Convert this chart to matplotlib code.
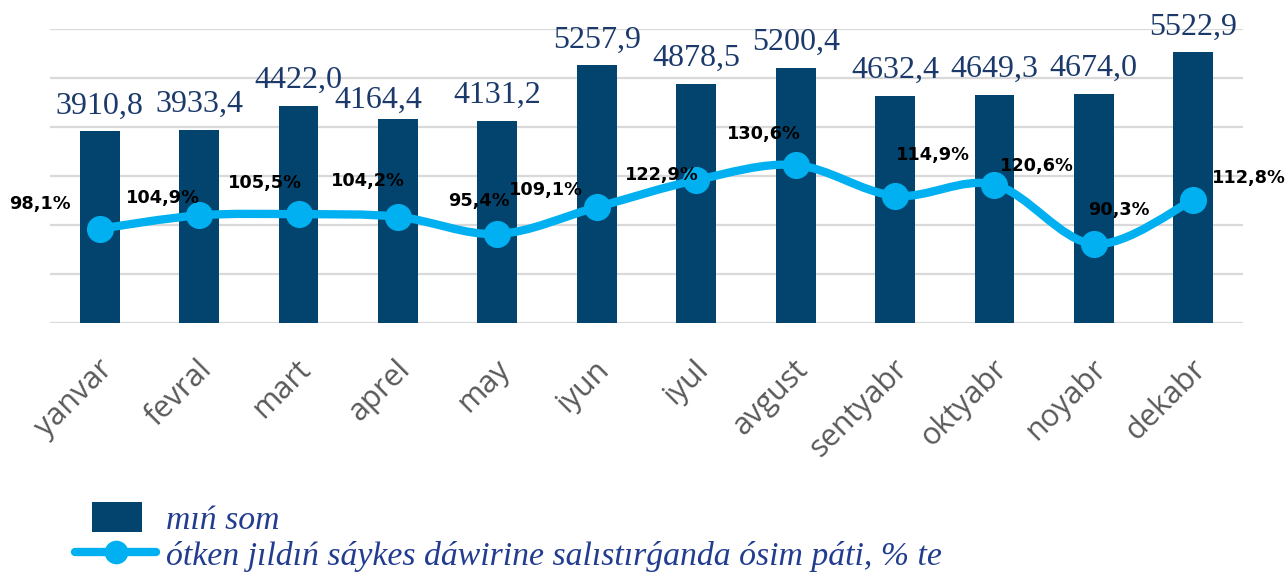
import matplotlib
matplotlib.use("Agg")
import matplotlib.pyplot as plt
from matplotlib.path import Path
from matplotlib.patches import PathPatch, Rectangle
from matplotlib.lines import Line2D
from matplotlib.legend_handler import HandlerPatch, HandlerLine2D
import matplotlib.transforms as mtransforms
import numpy as np

# ---------------- data ----------------
months = ["yanvar", "fevral", "mart", "aprel", "may", "iyun", "iyul",
          "avgust", "sentyabr", "oktyabr", "noyabr", "dekabr"]
min_som = [3910.8, 3933.4, 4422.0, 4164.4, 4131.2, 5257.9, 4878.5,
           5200.4, 4632.4, 4649.3, 4674.0, 5522.9]
growth_pct = [98.1, 104.9, 105.5, 104.2, 95.4, 109.1, 122.9,
              130.6, 114.9, 120.6, 90.3, 112.8]
bar_label_text = ["3910,8", "3933,4", "4422,0", "4164,4", "4131,2", "5257,9",
                  "4878,5", "5200,4", "4632,4", "4649,3", "4674,0", "5522,9"]
pct_label_text = ["98,1%", "104,9%", "105,5%", "104,2%", "95,4%", "109,1%",
                  "122,9%", "130,6%", "114,9%", "120,6%", "90,3%", "112,8%"]
legend_bar = "mıń som"
legend_line = "ótken jıldıń sáykes dáwirine salıstırǵanda ósim páti, % te"

# ---------------- styles / positions ----------------
BAR_COLOR = "#02446E"
LINE_COLOR = "#00B0F0"
BAR_LABEL_COLOR = "#1B3A6B"
LEGEND_TEXT_COLOR = "#223D8F"
TICK_COLOR = "#595959"
GRID_COLOR = "#D9D9D9"

# label offsets in pixels (dx, dy)
bar_label_offsets = [(0, 18)] * 12
bar_label_offsets = list(bar_label_offsets)
bar_label_offsets[3] = (-20, 11)
pct_label_offsets = [(-60, 25), (-36, 17), (-34, 31), (-30, 36), (-18, 33),
                     (-51, 17), (-34, 5), (-32, 31), (38, 41), (42, 19),
                     (25, 34), (56, 22)]

W, H = 1286, 572
fig = plt.figure(figsize=(W / 100, H / 100), dpi=100)
ax = fig.add_axes([50 / W, 1 - 323 / H, 1193 / W, (323 - 29) / H])
ax2 = ax.twinx()

x = np.arange(len(months))

# bars
ax.bar(x, min_som, width=0.4, color=BAR_COLOR, zorder=2)
ax.set_xlim(-0.5, len(months) - 0.5)
ax.set_ylim(0, 6000)
ax.set_yticks(np.arange(0, 6001, 1000))
ax.yaxis.grid(True, color=GRID_COLOR, linewidth=1.6, zorder=0)
ax.set_axisbelow(True)
for s in ax.spines.values():
    s.set_visible(False)
for s in ax2.spines.values():
    s.set_visible(False)
ax.tick_params(axis="y", left=False, labelleft=False)
ax.tick_params(axis="x", length=0, pad=30)
ax.set_xticks(x)
ax.set_xticklabels(months, rotation=45, ha="right", va="center",
                   rotation_mode="anchor", fontsize=22, color=TICK_COLOR,
                   family="Open Sans")
shift = mtransforms.ScaledTranslation(8 / 100, 0, fig.dpi_scale_trans)
for lbl in ax.get_xticklabels():
    lbl.set_transform(lbl.get_transform() + shift)

# bar labels
for xi, v, t, (dx, dy) in zip(x, min_som, bar_label_text, bar_label_offsets):
    ax.annotate(t, (xi, v), xytext=(dx, dy), textcoords="offset pixels",
                ha="center", va="baseline", fontsize=23,
                family="Liberation Serif", color=BAR_LABEL_COLOR, zorder=5)

# smoothed line on secondary axis (Bezier through the data points)
ax2.set_ylim(50, 200)
ax2.tick_params(axis="y", right=False, labelright=False)
pts = np.column_stack([x, growth_pct]).astype(float)
ext = np.vstack([pts[0], pts, pts[-1]])
verts = [tuple(pts[0])]
codes = [Path.MOVETO]
for i in range(len(pts) - 1):
    p0, p1, p2, p3 = ext[i], ext[i + 1], ext[i + 2], ext[i + 3]
    c1 = p1 + (p2 - p0) / 6.0
    c2 = p2 - (p3 - p1) / 6.0
    verts += [tuple(c1), tuple(c2), tuple(p2)]
    codes += [Path.CURVE4] * 3
patch = PathPatch(Path(verts, codes), facecolor="none", edgecolor=LINE_COLOR,
                  linewidth=6, capstyle="round", joinstyle="round", zorder=3)
ax2.add_patch(patch)
ax2.plot(x, growth_pct, linestyle="none", marker="o", markersize=18.5,
         color=LINE_COLOR, zorder=4)

for xi, v, t, (dx, dy) in zip(x, growth_pct, pct_label_text, pct_label_offsets):
    ax2.annotate(t, (xi, v), xytext=(dx, dy), textcoords="offset pixels",
                 ha="center", va="center", fontsize=12.8, fontweight="bold",
                 family="DejaVu Sans", color="black", zorder=6)

# legend
class SmallRect(HandlerPatch):
    def create_artists(self, legend, orig_handle, xdescent, ydescent,
                       width, height, fontsize, trans):
        w = width * 0.61
        h = height * 1.0
        r = Rectangle((-xdescent + (width - w) / 2 + 1, -ydescent + (height - h) / 2),
                      w, h, facecolor=BAR_COLOR, edgecolor="none",
                      transform=trans)
        return [r]

bar_handle = Rectangle((0, 0), 1, 1, facecolor=BAR_COLOR)
line_handle = Line2D([], [], color=LINE_COLOR, linewidth=6, marker="o",
                     markersize=16, solid_capstyle="round")
leg = fig.legend([bar_handle, line_handle], [legend_bar, legend_line],
                 loc="upper left", bbox_to_anchor=(75 / W, 1 - 502 / H),
                 frameon=False, handlelength=2.4, handleheight=1.0,
                 handletextpad=0.3, labelspacing=0.08, borderaxespad=0,
                 borderpad=0,
                 handler_map={Rectangle: SmallRect(),
                              Line2D: HandlerLine2D(numpoints=1)},
                 prop={"family": ["Liberation Serif", "DejaVu Serif"],
                       "style": "italic", "size": 24.3})
for t in leg.get_texts():
    t.set_color(LEGEND_TEXT_COLOR)

fig.savefig("out.png", dpi=100)
